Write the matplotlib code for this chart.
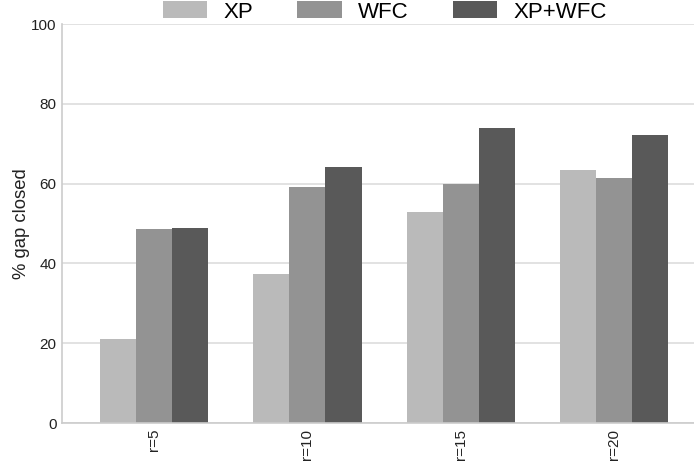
import matplotlib
matplotlib.use("Agg")
import matplotlib.pyplot as plt
import pandas as pd

radii = ["r=5", "r=10", "r=15", "r=20"]
xp = [21.0, 37.3, 52.9, 63.4]
wfc = [48.6, 59.1, 59.9, 61.4]
xp_wfc = [48.9, 64.2, 73.9, 72.2]

plt.rcParams["font.family"] = ["Liberation Sans", "DejaVu Sans"]

df = pd.DataFrame({"XP": xp, "WFC": wfc, "XP+WFC": xp_wfc}, index=radii)
colors = ["#bababa", "#939393", "#595959"]

fig = plt.figure(figsize=(6.94, 4.62), dpi=100)
ax = fig.add_axes([0.0893, 0.0844, 0.9107, 0.8636])
df.plot.bar(ax=ax, color=colors, width=0.706, legend=False, zorder=2)

ax.set_ylim(0, 100)
ax.set_xlim(-0.6, 3.52)
ax.set_yticks(range(0, 101, 20))
ax.yaxis.grid(True, color="#dddddd", linewidth=1.2, zorder=0)
ax.xaxis.grid(False)
ax.set_axisbelow(True)
for side in ["top", "right"]:
    ax.spines[side].set_visible(False)
for side in ["left", "bottom"]:
    ax.spines[side].set_color("#cccccc")
    ax.spines[side].set_linewidth(1.2)
ax.tick_params(axis="both", length=0, labelsize=11, colors="#222222", pad=4)
ax.tick_params(axis="x", rotation=90)
ax.set_ylabel("% gap closed", fontsize=13.3, color="#222222", labelpad=1)

ax.legend(
    loc="center",
    bbox_to_anchor=(0.5545, 0.974),
    bbox_transform=fig.transFigure,
    ncol=3,
    frameon=False,
    fontsize=16,
    handlelength=2.0,
    handleheight=0.8,
    columnspacing=2.0,
    handletextpad=0.72,
)

fig.savefig("out.png", dpi=100)
